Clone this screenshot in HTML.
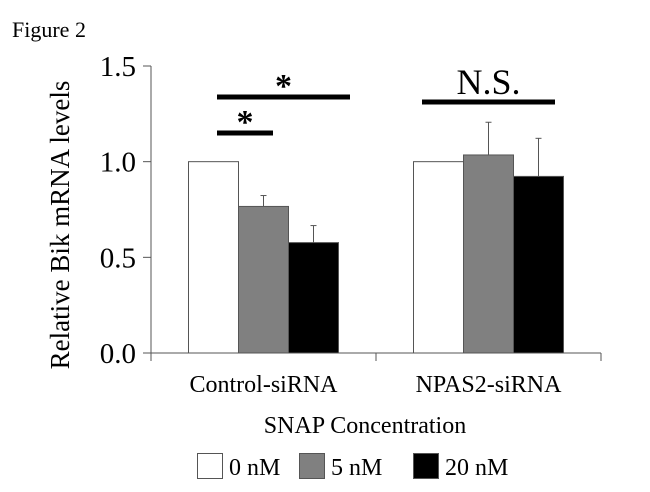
<!DOCTYPE html>
<html><head><meta charset="utf-8"><style>
body{margin:0;background:#fff}
svg text{font-family:"Liberation Serif",serif;fill:#000}
</style></head><body>
<svg id="c" width="650" height="487" xmlns="http://www.w3.org/2000/svg">
<text x="12" y="37" font-size="22">Figure 2</text>
</svg>
<script>
const categories=["Control-siRNA","NPAS2-siRNA"];
const seriesNames=["0 nM","5 nM","20 nM"];
const seriesColors=["#fff","#808080","#000"];
const values=[[1.0,0.766,0.577],[1.0,1.035,0.923]];
const errors=[[0,0.057,0.089],[0,0.171,0.199]];
const yTicks=[0,0.5,1.0,1.5];
const yTickLabels=["0.0","0.5","1.0","1.5"];
const svg=document.getElementById('c');
const NS='http://www.w3.org/2000/svg';
const X0=151,X1=601,Y0=353,Y1=66,YMAX=1.5;
const y=v=>Y0-(v/YMAX)*(Y0-Y1);
const catW=(X1-X0)/categories.length;
const barW=50;
const bx=(c,s)=>X0+catW*(c+0.5)+(s-1.5)*barW;
function mk(t,a){const e=document.createElementNS(NS,t);for(const k in a)e.setAttribute(k,a[k]);svg.appendChild(e);return e;}
let e=mk('line',{x1:X0,y1:Y1,x2:X0,y2:Y0,stroke:'#555','stroke-width':1});


e=mk('line',{x1:X0,y1:Y0,x2:X1,y2:Y0,stroke:'#555','stroke-width':1});


yTicks.forEach((t,i)=>{
 let l=mk('line',{x1:X0-8,y1:y(t),x2:X0,y2:y(t),stroke:'#555'});
 
 
 let tx=mk('text',{x:X0-15,y:y(t)+10,'font-size':29,'text-anchor':'end'});
 tx.textContent=yTickLabels[i];
 
 
});
for(let c=0;c<=categories.length;c++){
 let l=mk('line',{x1:X0+catW*c,y1:Y0,x2:X0+catW*c,y2:Y0+8,stroke:'#555'});
 
 
}
categories.forEach((cat,c)=>{
 let tx=mk('text',{x:X0+catW*(c+0.5),y:392,'font-size':24,'text-anchor':'middle'});
 tx.textContent=cat;
 
 
 values[c].forEach((v,s)=>{
  const x=bx(c,s);
  if(errors[c][s]>0){
   let l=mk('line',{x1:x+barW/2,y1:y(v+errors[c][s]),x2:x+barW/2,y2:y(v),stroke:'#555'});
   
   
   let h=mk('line',{x1:x+barW/2-3,y1:y(v+errors[c][s]),x2:x+barW/2+3,y2:y(v+errors[c][s]),stroke:'#555'});
   
   
  }
  let r=mk('rect',{x:x,y:y(v),width:barW,height:Y0-y(v),fill:seriesColors[s],stroke:'#555','stroke-width':1});
  
  
 });
});
function sig(x1,x2,yy,label,fs,ly){
 let r=mk('rect',{x:x1,y:yy-2.5,width:x2-x1,height:5,fill:'#000'});
 
 
 let t=mk('text',{x:(x1+x2)/2,y:ly,'font-size':fs,'text-anchor':'middle','font-weight':'bold'});
 t.textContent=label;
 
 
}
sig(217,350,97,'*',34,97);
sig(217,273,133,'*',34,133);
sig(422,555,102,'N.S.',36,94);
svg.lastChild.setAttribute('font-weight','normal');
let yt=mk('text',{x:0,y:0,'font-size':27,'text-anchor':'middle',transform:'translate(69,225) rotate(-90)'});
yt.textContent='Relative Bik mRNA levels';


let xt=mk('text',{x:365,y:433,'font-size':24,'text-anchor':'middle'});
xt.textContent='SNAP Concentration';


const legX=[197,299,413];
seriesNames.forEach((n,s)=>{
 let r=mk('rect',{x:legX[s]+0.5,y:453.5,width:25,height:25,fill:seriesColors[s],stroke:'#555'});
 
 
 let t=mk('text',{x:legX[s]+32,y:475,'font-size':24});
 t.textContent=n;
 
 
});
</script>
</body></html>
